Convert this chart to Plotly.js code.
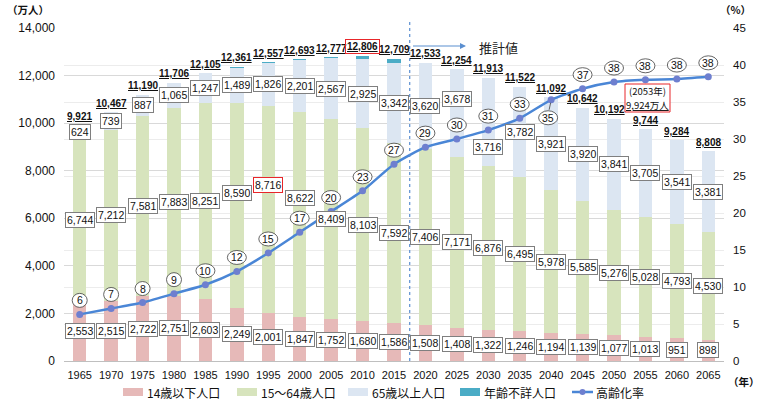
<!DOCTYPE html>
<html><head><meta charset="utf-8">
<script src="https://cdn.plot.ly/plotly-3.0.1.min.js"></script>
<style>html,body{margin:0;padding:0;background:#fff}#chart{width:760px;height:404px}</style>
</head><body><div id="chart"></div>
<script>
// ---------------- data ----------------
const years = ['1965','1970','1975','1980','1985','1990','1995','2000','2005','2010','2015',
               '2020','2025','2030','2035','2040','2045','2050','2055','2060','2065'];
const under15   = [2553,2515,2722,2751,2603,2249,2001,1847,1752,1680,1586,1508,1408,1322,1246,1194,1139,1077,1013,951,898];
const age15to64 = [6744,7212,7581,7883,8251,8590,8716,8622,8409,8103,7592,7406,7171,6876,6495,5978,5585,5276,5028,4793,4530];
const age65plus = [624,739,887,1065,1247,1489,1826,2201,2567,2925,3342,3620,3678,3716,3782,3921,3920,3841,3705,3541,3381];
const ageUnknown = [0,1,0,7,4,33,14,23,49,98,189,0,0,0,0,0,0,0,0,0,0];
const totals    = [9921,10467,11190,11706,12105,12361,12557,12693,12777,12806,12709,12533,12254,11913,11522,11092,10642,10192,9744,9284,8808];
const agingRate = [6.3,7.1,7.9,9.1,10.3,12.1,14.6,17.4,20.2,23.0,26.6,28.9,30.0,31.2,32.8,35.3,36.8,37.7,38.0,38.1,38.4];
const agingRateLabels = [6,7,8,9,10,12,15,17,20,23,27,29,30,31,33,35,37,38,38,38,38];
const seriesNames = ['14歳以下人口','15～64歳人口','65歳以上人口','年齢不詳人口','高齢化率'];
const peakNoteYear = '2053';
const peakNoteValue = 9924;
const forecastLabel = '推計値';

// ---------------- style ----------------
const C = {u15:'#E6B9B8', mid:'#D7E4BD', old:'#DCE6F2', unk:'#4BACC6', line:'#4A86D6', marker:'#6E7FCF',
           red:'#E8262A', grid:'#D9D9D9', grid2:'#ECECEC', box:'#7F7F7F', txt:'#111111'};
const FONT = 'Liberation Sans, Arial, Noto Sans CJK JP, sans-serif';
const JFONT = 'Noto Sans CJK JP, sans-serif';
const W = 760, H = 404, M = {l:64, r:36, t:28, b:43};
const PW = W - M.l - M.r, PH = H - M.t - M.b;
const px = x => (x - M.l) / PW;
const py = y => (H - M.b - y) / PH;
const fmt = v => v.toLocaleString('en-US');

// label shifts (pixels, + = up / right)
const midShift = {5:12, 6:25, 7:17};
const oldShift = {12:14, 13:-25};
const totalXShift = {17:-5};
const rateShift = {15:{dx:-3, dy:-18}};
const redMid = 6, redTotal = 9;

// ---------------- traces ----------------
const traces = [
  {type:'bar', x:years, y:under15, name:seriesNames[0], marker:{color:C.u15}, hoverinfo:'skip'},
  {type:'bar', x:years, y:age15to64, name:seriesNames[1], marker:{color:C.mid}, hoverinfo:'skip'},
  {type:'bar', x:years, y:age65plus, name:seriesNames[2], marker:{color:C.old}, hoverinfo:'skip'},
  {type:'bar', x:years, y:ageUnknown, name:seriesNames[3], marker:{color:C.unk}, hoverinfo:'skip'},
  {type:'scatter', mode:'lines+markers', x:years, y:agingRate, yaxis:'y2', name:seriesNames[4],
   line:{color:C.line, width:2.5, shape:'spline', smoothing:0.6},
   marker:{color:C.marker, size:7}, hoverinfo:'skip'}
];

// ---------------- annotations & shapes ----------------
// category positions are addressed by index (numeric-looking category strings
// would otherwise be read as numbers by annotations/shapes)
const ann = [], shp = [];
function boxLabel(x, y, text, yshift, border) {
  ann.push({x, y, xref:'x', yref:'y', text, showarrow:false, yshift:yshift||0,
    font:{family:FONT, size:10.5, color:C.txt}, bgcolor:'#ffffff',
    bordercolor:border||C.box, borderwidth:1, borderpad:1});
}
years.forEach((yr, i) => {
  boxLabel(i, under15[i]/2, fmt(under15[i]), 0);
  boxLabel(i, under15[i] + age15to64[i]/2, fmt(age15to64[i]), midShift[i]||0, i===redMid ? C.red : null);
  boxLabel(i, under15[i] + age15to64[i] + age65plus[i]/2, fmt(age65plus[i]), oldShift[i]||0);
  // totals
  const t = {x:i, y:totals[i], xref:'x', yref:'y', text:'<u>'+fmt(totals[i])+'</u>', showarrow:false,
    yshift:9, xshift:totalXShift[i]||0, font:{family:FONT, size:10, color:C.txt, weight:'bold'}};
  if (i === redTotal) { t.bordercolor = C.red; t.borderwidth = 1; t.borderpad = 1; t.yshift = 10; }
  ann.push(t);
  // rate labels
  const s = rateShift[i] || {dx:0, dy:14};
  const w = String(agingRateLabels[i]).length > 1 ? 19 : 15;
  shp.push({type:'circle', xref:'x', yref:'y2', xsizemode:'pixel', ysizemode:'pixel',
    xanchor:i, yanchor:agingRate[i], x0:s.dx - w/2, x1:s.dx + w/2, y0:s.dy - 7, y1:s.dy + 7,
    line:{color:'#3F3F3F', width:0.8}, fillcolor:'#ffffff', layer:'above'});
  ann.push({x:i, y:agingRate[i], xref:'x', yref:'y2', text:String(agingRateLabels[i]), showarrow:false,
    xshift:s.dx, yshift:s.dy, font:{family:FONT, size:10.5, color:C.txt}});
  if (rateShift[i]) {
    shp.push({type:'line', xref:'x', yref:'y2', xsizemode:'pixel', ysizemode:'pixel',
      xanchor:i, yanchor:agingRate[i], x0:-0.5, y0:-3, x1:-2, y1:-10,
      line:{color:'#3F3F3F', width:0.8}, layer:'above'});
  }
});

// forecast divider
shp.push({type:'line', xref:'x', yref:'paper', x0:10.5, x1:10.5, y0:0, y1:py(20),
  line:{color:'#5B8FD0', width:1.2, dash:'3px,3px'}, layer:'above'});
ann.push({xref:'paper', yref:'paper', x:px(466), y:py(46), ax:-56, ay:0, text:' ', showarrow:true,
  arrowhead:2, arrowsize:1, arrowwidth:1.2, arrowcolor:'#5B8FD0'});
ann.push({xref:'paper', yref:'paper', x:px(477), y:py(47), xanchor:'left', yanchor:'middle',
  text:forecastLabel, showarrow:false, font:{family:JFONT, size:13, color:'#222'}});

// 2053 note (red frame + two text lines)
shp.push({type:'rect', xref:'paper', yref:'paper', x0:px(625), x1:px(670), y0:py(112), y1:py(84),
  line:{color:C.red, width:1}, fillcolor:'#ffffff', layer:'above'});
const noteFont = {family:JFONT, size:9.5, color:C.txt};
ann.push({xref:'paper', yref:'paper', x:px(647.5), y:py(90.8), xanchor:'center', yanchor:'middle',
  text:'('+peakNoteYear+'年)', showarrow:false, font:noteFont});
ann.push({xref:'paper', yref:'paper', x:px(647.5), y:py(105.4), xanchor:'center', yanchor:'middle',
  text:'<u>'+fmt(peakNoteValue)+'万人</u>', showarrow:false, font:noteFont});
ann.push({xref:'paper', yref:'paper', x:px(628), y:py(122), ax:0, ay:-9, text:' ', showarrow:true,
  arrowhead:2, arrowsize:0.9, arrowwidth:1.2, arrowcolor:C.red});

// unit labels
const unitFont = {family:JFONT, size:10.5, color:C.txt, weight:'bold'};
ann.push({xref:'paper', yref:'paper', x:px(28), y:py(9), xanchor:'center', yanchor:'middle',
  text:'（万人）', showarrow:false, font:unitFont});
ann.push({xref:'paper', yref:'paper', x:px(736), y:py(9), xanchor:'center', yanchor:'middle',
  text:'（%）', showarrow:false, font:unitFont});
ann.push({xref:'paper', yref:'paper', x:px(744), y:py(381), xanchor:'center', yanchor:'middle',
  text:'（年）', showarrow:false, font:unitFont});

// manual legend
const legX = [123, 237, 348, 460, 572];
const legCol = [C.u15, C.mid, C.old, C.unk];
const legY = 392;
legX.forEach((x0, k) => {
  if (k < 4) {
    shp.push({type:'rect', xref:'paper', yref:'paper', x0:px(x0), x1:px(x0+20), y0:py(legY+4), y1:py(legY-4),
      line:{width:0}, fillcolor:legCol[k]});
  } else {
    shp.push({type:'line', xref:'paper', yref:'paper', x0:px(x0), x1:px(x0+21), y0:py(legY), y1:py(legY),
      line:{color:C.line, width:2.5}});
    shp.push({type:'circle', xref:'paper', yref:'paper', x0:px(x0+7.5), x1:px(x0+13.5), y0:py(legY+3), y1:py(legY-3),
      line:{width:0}, fillcolor:C.marker});
  }
  ann.push({xref:'paper', yref:'paper', x:px(x0+22), y:py(legY), xanchor:'left', yanchor:'middle',
    text:seriesNames[k], showarrow:false, font:{family:JFONT, size:12, color:C.txt}});
});

const layout = {
  width:W, height:H, margin:M, paper_bgcolor:'#fff', plot_bgcolor:'#fff',
  barmode:'stack', bargap:0.575, showlegend:false,
  font:{family:FONT, color:C.txt},
  xaxis:{type:'category', range:[-0.5, years.length-0.5], showgrid:false, showline:true, linecolor:'#BFBFBF', linewidth:1,
    ticks:'', tickfont:{family:FONT, size:11, color:C.txt}, ticklabelstandoff:4},
  yaxis:{range:[0,14000], dtick:2000, tickformat:',d', showgrid:true, gridcolor:C.grid, gridwidth:1,
    zeroline:false, ticks:'', tickfont:{family:FONT, size:12, color:C.txt}, ticklabelstandoff:8},
  yaxis2:{overlaying:'y', side:'right', range:[0,45], dtick:5, showgrid:true, gridcolor:C.grid2,
    zeroline:false, ticks:'', tickfont:{family:FONT, size:11.5, color:C.txt}, ticklabelstandoff:8},
  annotations:ann, shapes:shp
};
Plotly.newPlot('chart', traces, layout, {staticPlot:true});
</script></body></html>
